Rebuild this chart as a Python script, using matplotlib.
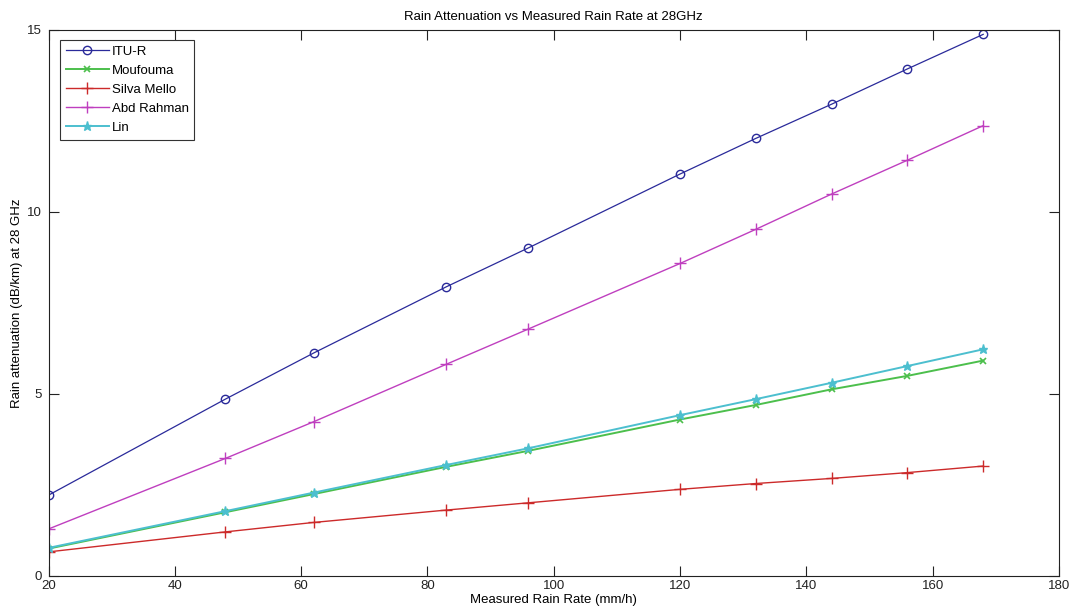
import numpy as np
import matplotlib.pyplot as plt

# measured rain rate (mm/h)
rain_rate = [20, 48, 62, 83, 96, 120, 132, 144, 156, 168]

# specific attenuation (dB/km) at 28 GHz for each model
itu_r = [2.21, 4.85, 6.12, 7.94, 9.01, 11.04, 12.02, 12.96, 13.93, 14.88]
moufouma = [0.74, 1.74, 2.24, 2.99, 3.43, 4.29, 4.69, 5.12, 5.49, 5.91]
silva_mello = [0.65, 1.20, 1.46, 1.80, 2.00, 2.37, 2.53, 2.67, 2.83, 3.01]
abd_rahman = [1.28, 3.22, 4.23, 5.81, 6.78, 8.58, 9.52, 10.49, 11.42, 12.37]
lin = [0.76, 1.77, 2.28, 3.04, 3.50, 4.41, 4.85, 5.30, 5.76, 6.22]

x_ticks = [20, 40, 60, 80, 100, 120, 140, 160, 180]
y_ticks = [0, 5, 10, 15]

plt.rcParams['font.family'] = ['Liberation Sans', 'DejaVu Sans']
plt.rcParams['font.size'] = 9.5

fig = plt.figure(figsize=(10.74, 6.16), dpi=100)
ax = fig.add_axes([0.0452, 0.0657, 0.9408, 0.8856])

ax.plot(rain_rate, itu_r, '-o', color='#2a2a9a', lw=0.9, ms=6,
        mfc='none', mec='#2a2a9a', mew=1.0, label='ITU-R')
ax.plot(rain_rate, moufouma, '-x', color='#4cbf4c', lw=1.4, ms=5,
        mew=1.2, label='Moufouma')
ax.plot(rain_rate, silva_mello, '-+', color='#cc2a2a', lw=1.0, ms=8,
        mew=1.0, label='Silva Mello')
ax.plot(rain_rate, abd_rahman, '-+', color='#bf3fbf', lw=1.0, ms=8,
        mew=1.0, label='Abd Rahman')
ax.plot(rain_rate, lin, '-*', color='#4cbfcf', lw=1.4, ms=6.5,
        mew=1.0, label='Lin')

ax.set_xlim(20, 180)
ax.set_ylim(0, 15)
ax.set_xticks(x_ticks)
ax.set_yticks(y_ticks)
ax.tick_params(direction='in', length=7, width=0.8, top=True, right=True,
               labelsize=9.5, colors='#222222')
ax.tick_params(axis='y', pad=5)
for s in ax.spines.values():
    s.set_linewidth(0.8)
    s.set_color('#222222')

ax.set_title('Rain Attenuation vs Measured Rain Rate at 28GHz', fontsize=9.5, pad=7)
ax.set_xlabel('Measured Rain Rate (mm/h)', fontsize=9.5, labelpad=1)
ax.set_ylabel('Rain attenuation (dB/km) at 28 GHz', fontsize=9.5, labelpad=3)

leg = ax.legend(loc='upper left', bbox_to_anchor=(0.0114, 0.982), fontsize=9.5,
                handlelength=3.3, handletextpad=0.2, labelspacing=0.52,
                borderpad=0.42, borderaxespad=0, fancybox=False, framealpha=1,
                edgecolor='#333333')
leg.get_frame().set_linewidth(0.8)

plt.savefig('out.png', dpi=100)
